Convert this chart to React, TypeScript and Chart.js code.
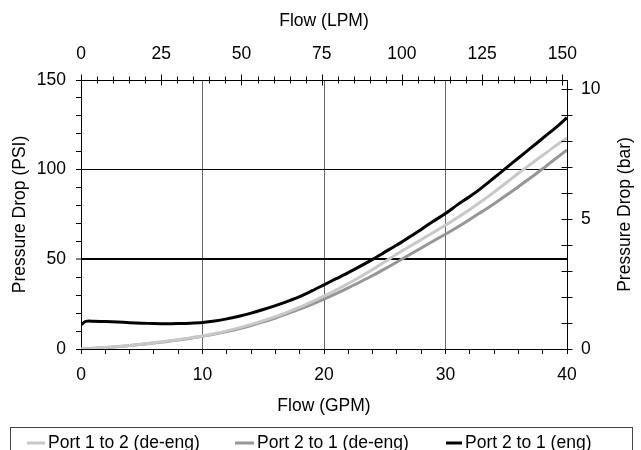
import React, { useEffect, useRef } from 'react';
import { Chart, registerables } from 'chart.js';

Chart.register(...registerables);

// ---- data ----
const flowGpm = [0, 1, 2, 3, 4, 5, 6, 7, 8, 9, 10, 11, 12, 13, 14, 15, 16, 17, 18, 19, 20, 21, 22, 23, 24, 25, 26, 27, 28, 29, 30, 31, 32, 33, 34, 35, 36, 37, 38, 39, 40];
const port12DeEng = [0, 0.4, 0.9, 1.4, 2.0, 2.7, 3.5, 4.3, 5.2, 6.2, 7.3, 8.6, 10.1, 11.8, 13.7, 15.8, 18.1, 20.6, 23.3, 26.3, 29.5, 32.9, 36.5, 40.3, 44.3, 48.6, 53, 57, 61, 65, 69, 73.3, 77.8, 82.5, 87.5, 92.7, 98, 103, 108, 113, 117.7];
const port21DeEng = [0, 0.4, 0.8, 1.3, 1.9, 2.6, 3.3, 4.1, 5.0, 6.0, 7.1, 8.3, 9.7, 11.3, 13.1, 15.1, 17.3, 19.7, 22.2, 24.9, 27.8, 30.9, 34.1, 37.5, 41, 44.7, 48.5, 52.4, 56.3, 60.2, 64, 68, 72.2, 76.6, 81, 85.7, 90.5, 95.5, 100.5, 105.8, 111];
const flowGpmEng = [0, 0.4, 1, 2, 3, 4, 5, 6, 7, 8, 9, 10, 11, 12, 13, 14, 15, 16, 17, 18, 19, 20, 21, 22, 23, 24, 25, 26, 27, 28, 29, 30, 31, 32, 33, 34, 35, 36, 37, 38, 39, 40];
const port21Eng = [13.5, 15.4, 15.5, 15.3, 15.0, 14.7, 14.4, 14.2, 14.1, 14.2, 14.4, 14.8, 15.6, 16.8, 18.3, 20, 22, 24.2, 26.6, 29.2, 32.4, 35.8, 39.2, 42.6, 46.2, 50, 54, 58, 62.3, 66.7, 71.3, 75.5, 80.5, 85, 90, 95.5, 101, 106.5, 112, 117.5, 123, 129];

const seriesLabels = ['Port 1 to 2 (de-eng)', 'Port 2 to 1 (de-eng)', 'Port 2 to 1 (eng)'];

// ---- tick values ----
const gpmTicks = [0, 2, 4, 6, 8, 10, 12, 14, 16, 18, 20, 22, 24, 26, 28, 30, 32, 34, 36, 38, 40];
const gpmLabels = [0, 10, 20, 30, 40];
const psiTicks = [0, 10, 20, 30, 40, 50, 60, 70, 80, 90, 100, 110, 120, 130, 140, 150];
const psiLabels = [0, 50, 100, 150];
const lpmTicks = [0, 5, 10, 15, 20, 25, 30, 35, 40, 45, 50, 55, 60, 65, 70, 75, 80, 85, 90, 95, 100, 105, 110, 115, 120, 125, 130, 135, 140, 145, 150];
const lpmLabels = [0, 25, 50, 75, 100, 125, 150];
const barTicks = [0, 1, 2, 3, 4, 5, 6, 7, 8, 9, 10];
const barLabels = [0, 5, 10];

const GPM_MAX = 40;
const PSI_MAX = 150;
const LPM_PER_GPM = 3.78541;
const PSI_PER_BAR = 14.5038;

const FONT = "'Liberation Sans', Arial, sans-serif";
const FS = 17.5;
const RIGHT_TITLE = 'Pressure Drop (bar)';

const colors = ['#c8c8c8', '#969696', '#000000'];

function toPoints(xs: number[], ys: number[]) {
  return xs.map((x, i) => ({ x, y: ys[i] }));
}

const crossTicksAndLegend = {
  id: 'crossTicksAndLegend',
  afterDraw(chart: any) {
    const ctx = chart.ctx;
    const top = chart.scales.x2;
    const right = chart.scales.y2;
    const area = chart.chartArea;
    ctx.save();
    ctx.strokeStyle = '#000';
    ctx.lineWidth = 1;
    ctx.beginPath();
    lpmTicks.forEach((v) => {
      const px = Math.round(top.getPixelForValue(v)) + 0.5;
      const len = lpmLabels.includes(v) ? 5.5 : 3.5;
      ctx.moveTo(px, top.bottom - len);
      ctx.lineTo(px, top.bottom + len);
    });
    barTicks.forEach((v) => {
      const py = Math.round(right.getPixelForValue(v)) + 0.5;
      ctx.moveTo(right.left - 5.5, py);
      ctx.lineTo(right.left + 5.5, py);
    });
    ctx.stroke();

    // right axis title, reading bottom to top
    ctx.save();
    ctx.font = `${FS}px ${FONT}`;
    ctx.fillStyle = '#000';
    ctx.textAlign = 'center';
    ctx.textBaseline = 'middle';
    ctx.translate(625, (area.top + area.bottom) / 2);
    ctx.rotate(-Math.PI / 2);
    ctx.fillText(RIGHT_TITLE, 0, 0);
    ctx.restore();

    // legend box
    ctx.strokeStyle = '#444';
    ctx.lineWidth = 1;
    ctx.strokeRect(10.5, 427.5, 622, 40);
    const itemX = [27, 235, 446];
    const itemLen = [18, 19, 16];
    const ly = 443;
    ctx.font = `${FS}px ${FONT}`;
    ctx.textBaseline = 'middle';
    ctx.textAlign = 'left';
    ctx.fillStyle = '#000';
    chart.data.datasets.forEach((ds: any, i: number) => {
      ctx.strokeStyle = ds.borderColor;
      ctx.lineWidth = 3;
      ctx.beginPath();
      ctx.moveTo(itemX[i], ly);
      ctx.lineTo(itemX[i] + itemLen[i], ly);
      ctx.stroke();
      ctx.fillText(ds.label, itemX[i] + itemLen[i] + 3, ly);
    });
    ctx.restore();
  },
};

export default function App() {
  const ref = useRef<HTMLCanvasElement>(null);

  useEffect(() => {
    if (!ref.current) return;
    const font = { family: FONT, size: FS };
    const chart = new Chart(ref.current, {
      type: 'line',
      data: {
        datasets: [
          { label: seriesLabels[0], data: toPoints(flowGpm, port12DeEng), borderColor: colors[0], xAxisID: 'x', yAxisID: 'y' },
          { label: seriesLabels[1], data: toPoints(flowGpm, port21DeEng), borderColor: colors[1], xAxisID: 'x', yAxisID: 'y' },
          { label: seriesLabels[2], data: toPoints(flowGpmEng, port21Eng), borderColor: colors[2], xAxisID: 'x', yAxisID: 'y' },
        ],
      },
      options: {
        animation: false,
        responsive: false,
        events: [],
        layout: { padding: { left: 0, right: 0, top: 0, bottom: 23 } },
        elements: {
          point: { radius: 0 },
          line: { borderWidth: 3, tension: 0.3, fill: false },
        },
        plugins: { legend: { display: false }, tooltip: { enabled: false } },
        scales: {
          x: {
            type: 'linear',
            position: 'bottom',
            min: 0,
            max: GPM_MAX,
            afterBuildTicks: (s: any) => { s.ticks = gpmTicks.map((value) => ({ value })); },
            afterFit: (s: any) => { s.height = 78; },
            ticks: {
              autoSkip: false,
              maxRotation: 0,
              padding: 11,
              color: '#000',
              font,
              callback: (v: any) => (gpmLabels.includes(v) ? String(v) : ''),
            },
            grid: {
              drawOnChartArea: true,
              drawTicks: true,
              tickLength: 5,
              tickColor: '#000',
              tickWidth: 1,
              lineWidth: 1,
              color: (c: any) => {
                const v = c.tick ? c.tick.value : -1;
                return v > 0 && v < GPM_MAX && v % 10 === 0 ? '#666' : 'rgba(0,0,0,0)';
              },
            },
            border: { display: true, color: '#000', width: 1 },
            title: { display: true, text: 'Flow (GPM)', color: '#000', font, padding: { top: 0, bottom: 10 } },
          },
          x2: {
            type: 'linear',
            position: 'top',
            min: 0,
            max: GPM_MAX * LPM_PER_GPM,
            afterBuildTicks: (s: any) => { s.ticks = lpmTicks.map((value) => ({ value })); },
            afterFit: (s: any) => { s.height = 80; },
            ticks: {
              autoSkip: false,
              maxRotation: 0,
              padding: 15,
              color: '#000',
              font,
              callback: (v: any) => (lpmLabels.includes(v) ? String(v) : ''),
            },
            grid: { drawOnChartArea: false, drawTicks: false },
            border: { display: true, color: '#000', width: 1 },
            title: { display: true, text: 'Flow (LPM)', color: '#000', font, padding: { top: 11, bottom: 0 } },
          },
          y: {
            type: 'linear',
            position: 'left',
            min: 0,
            max: PSI_MAX,
            afterBuildTicks: (s: any) => { s.ticks = psiTicks.map((value) => ({ value })); },
            afterFit: (s: any) => { s.width = 81; },
            ticks: {
              autoSkip: false,
              padding: 10,
              color: '#000',
              font,
              callback: (v: any) => (psiLabels.includes(v) ? String(v) : ''),
            },
            grid: {
              drawOnChartArea: true,
              drawTicks: true,
              tickLength: 5,
              tickColor: '#000',
              tickWidth: 1,
              lineWidth: (c: any) => (c.tick && c.tick.value === 50 ? 2 : 1),
              color: (c: any) => {
                const v = c.tick ? c.tick.value : -1;
                return v === 50 || v === 100 ? '#000' : 'rgba(0,0,0,0)';
              },
            },
            border: { display: true, color: '#000', width: 1 },
            title: { display: true, text: 'Pressure Drop (PSI)', color: '#000', font, padding: { top: 10, bottom: 0 } },
          },
          y2: {
            type: 'linear',
            position: 'right',
            min: 0,
            max: PSI_MAX / PSI_PER_BAR,
            afterBuildTicks: (s: any) => { s.ticks = barTicks.map((value) => ({ value })); },
            afterFit: (s: any) => { s.width = 74; },
            ticks: {
              autoSkip: false,
              padding: 14,
              color: '#000',
              font,
              callback: (v: any) => (barLabels.includes(v) ? String(v) : ''),
            },
            grid: { drawOnChartArea: false, drawTicks: false },
            border: { display: true, color: '#000', width: 1 },
            title: { display: false },
          },
        },
      },
      plugins: [crossTicksAndLegend],
    } as any);
    return () => chart.destroy();
  }, []);

  return (
    <div style={{ position: 'absolute', left: 0, top: 0, width: 641, height: 450, background: '#fff' }}>
      <canvas ref={ref} width={641} height={450} style={{ display: 'block' }} />
    </div>
  );
}
